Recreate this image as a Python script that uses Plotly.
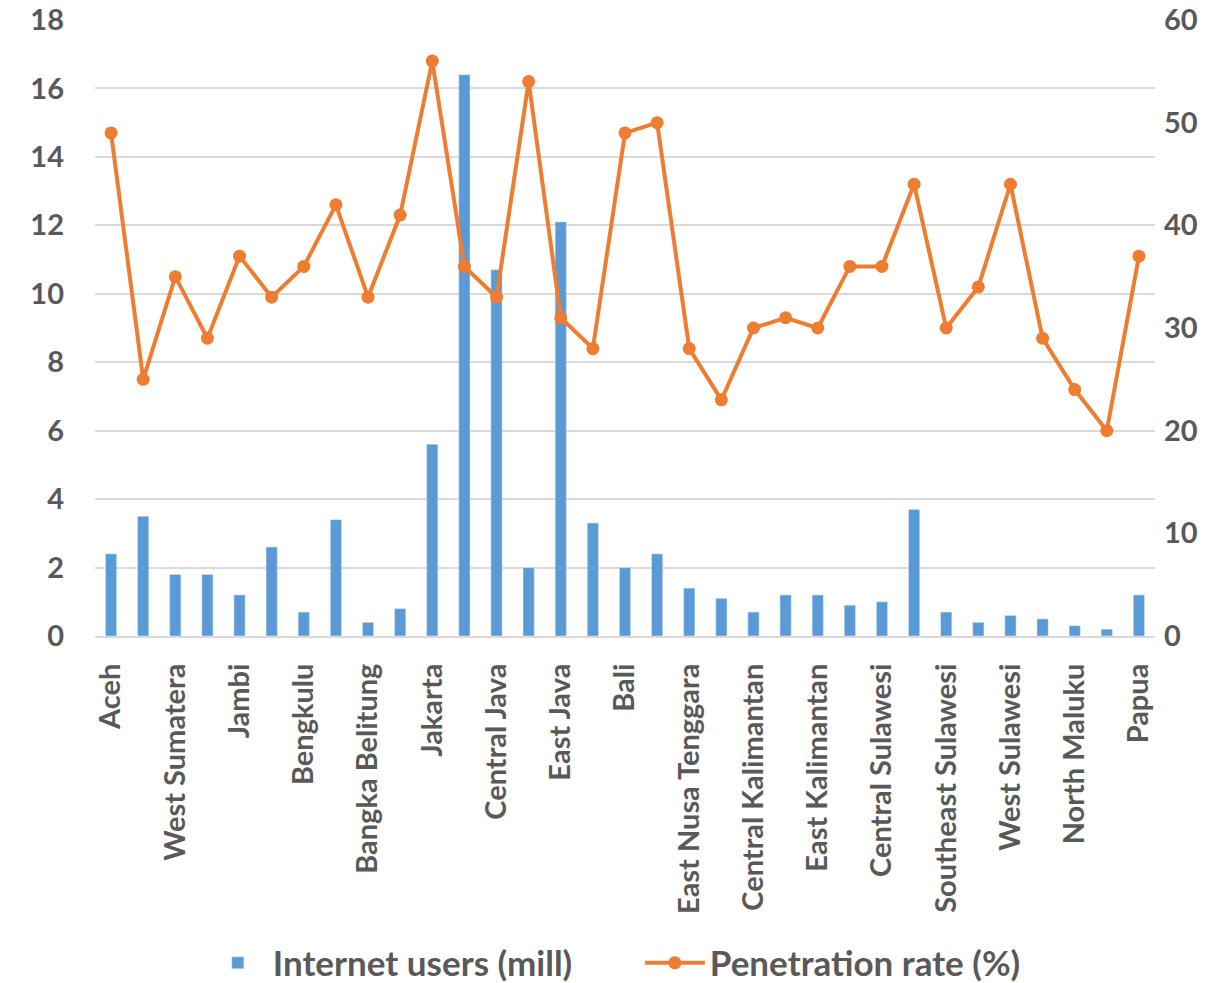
import plotly.graph_objects as go

provinces = ["Aceh", "North Sumatera", "West Sumatera", "Riau", "Jambi", "South Sumatera",
             "Bengkulu", "Lampung", "Bangka Belitung", "Riau Islands", "Jakarta", "West Java",
             "Central Java", "Yogyakarta", "East Java", "Banten", "Bali", "West Nusa Tenggara",
             "East Nusa Tenggara", "West Kalimantan", "Central Kalimantan", "South Kalimantan",
             "East Kalimantan", "North Sulawesi", "Central Sulawesi", "South Sulawesi",
             "Southeast Sulawesi", "Gorontalo", "West Sulawesi", "Maluku", "North Maluku",
             "West Papua", "Papua"]
users = [2.4, 3.5, 1.8, 1.8, 1.2, 2.6, 0.7, 3.4, 0.4, 0.8, 5.6, 16.4, 10.7, 2.0, 12.1, 3.3,
         2.0, 2.4, 1.4, 1.1, 0.7, 1.2, 1.2, 0.9, 1.0, 3.7, 0.7, 0.4, 0.6, 0.5, 0.3, 0.2, 1.2]
penetration = [49, 25, 35, 29, 37, 33, 36, 42, 33, 41, 56, 36, 33, 54, 31, 28, 49, 50, 28, 23,
               30, 31, 30, 36, 36, 44, 30, 34, 44, 29, 24, 20, 37]
shown_labels = provinces[::2]

grey = "#595959"
ff = "Lato"

fig = go.Figure()
fig.add_trace(go.Bar(x=provinces, y=users, name="Internet users (mill)",
                     marker_color="#5B9BD5", yaxis="y"))
fig.add_trace(go.Scatter(x=provinces, y=penetration, name="Penetration rate (%)",
                         mode="lines+markers", yaxis="y2",
                         line=dict(color="#ED7D31", width=4),
                         marker=dict(color="#ED7D31", size=13)))

fig.update_layout(
    width=1229, height=983,
    margin=dict(l=95, r=74, t=20, b=347, autoexpand=False),
    paper_bgcolor="white", plot_bgcolor="white",
    bargap=0.65,
    font=dict(family=ff, color=grey, size=22, weight="bold"),
    xaxis=dict(tickmode="array", tickvals=shown_labels, ticktext=shown_labels,
               range=[-0.5, 32.5], automargin=False,
               tickangle=-90, tickfont=dict(size=29, color=grey, family=ff, weight="bold"),
               ticklabelstandoff=14,
               showgrid=False, showline=True, linecolor="#D9D9D9", linewidth=2,
               ticks=""),
    yaxis=dict(range=[0, 18], dtick=2, showgrid=True, gridcolor="#D9D9D9", gridwidth=2,
               zeroline=False, automargin=False, ticklabeloverflow="allow",
               tickfont=dict(size=29, color=grey, family=ff, weight="bold"),
               ticks="", ticklabelstandoff=30),
    yaxis2=dict(range=[0, 60], dtick=10, overlaying="y", side="right", showgrid=False,
                zeroline=False, automargin=False, ticklabelstandoff=8,
                ticklabeloverflow="allow",
                tickfont=dict(size=29, color=grey, family=ff, weight="bold")),
    legend=dict(orientation="h", x=0.514, xanchor="center", xref="paper",
                y=0.0203, yanchor="middle", yref="container", itemwidth=60,
                entrywidth=362,
                font=dict(size=35, color=grey, family=ff, weight="bold")),
    showlegend=True,
)

fig.write_html("out.html", config={"displayModeBar": False},
               post_script="document.body.style.margin='0';document.body.style.overflow='hidden';")
